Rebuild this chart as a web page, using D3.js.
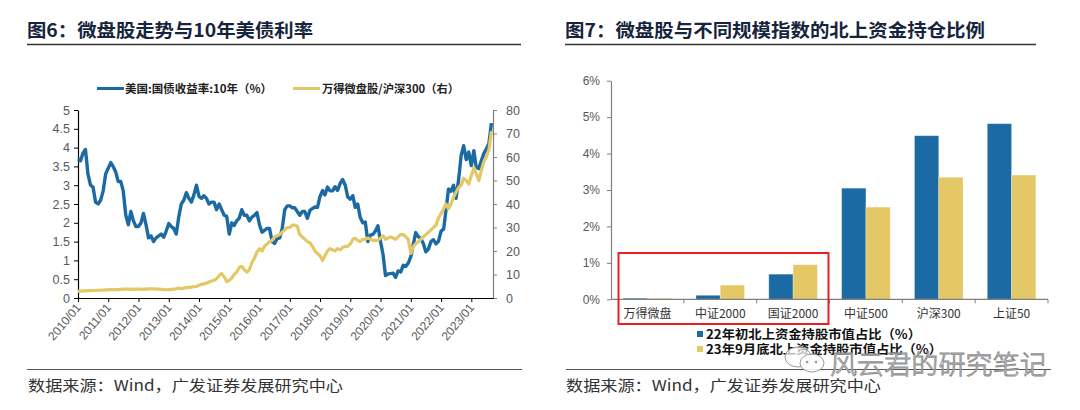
<!DOCTYPE html>
<html><head><meta charset="utf-8">
<script src="https://cdn.jsdelivr.net/npm/d3@7"></script>
<style>body{margin:0;background:#fff} svg{display:block}</style>
</head><body><svg id="c" width="1080" height="410"></svg>
<script>
// ---------- data ----------
const startYear = 2010;
// US 10Y treasury yield, monthly from 2010/01 (%)
const usYield = [
 3.70,3.65,3.85,3.95,3.30,3.00,2.95,2.55,2.50,2.60,2.85,3.30,
 3.45,3.60,3.50,3.35,3.10,3.10,2.85,2.20,1.95,2.30,2.05,1.90,
 1.90,2.00,2.25,1.95,1.60,1.65,1.50,1.60,1.65,1.70,1.62,1.78,
 1.98,1.90,1.85,1.70,2.15,2.50,2.60,2.80,2.65,2.55,2.75,3.00,
 2.70,2.65,2.72,2.65,2.50,2.55,2.55,2.35,2.50,2.35,2.20,2.17,
 1.70,2.00,1.93,2.05,2.12,2.35,2.20,2.20,2.05,2.15,2.20,2.27,
 1.95,1.75,1.80,1.85,1.85,1.50,1.45,1.58,1.60,1.84,2.35,2.45,
 2.45,2.40,2.40,2.30,2.20,2.30,2.30,2.12,2.33,2.38,2.42,2.41,
 2.70,2.86,2.74,2.95,2.85,2.85,2.96,2.86,3.05,3.15,3.00,2.69,
 2.63,2.72,2.41,2.50,2.14,2.00,2.02,1.50,1.67,1.69,1.78,1.92,
 1.51,1.15,0.60,0.64,0.65,0.66,0.55,0.72,0.69,0.87,0.84,0.93,
 1.10,1.44,1.74,1.63,1.58,1.45,1.23,1.30,1.50,1.55,1.44,1.51,
 1.78,1.83,2.33,2.90,2.84,3.00,2.65,3.15,3.80,4.05,3.68,3.88,
 3.52,3.92,3.48,3.44,3.64,3.84,3.96,4.10,4.65
];
// Wind micro-cap / CSI300, monthly from 2010/01 (right axis)
const microRatio = [
 2.8,2.9,3.0,3.0,3.1,3.1,3.2,3.2,3.3,3.3,3.4,3.5,
 3.5,3.6,3.5,3.6,3.6,3.7,3.8,3.8,3.8,3.7,3.8,3.8,
 3.8,3.8,3.7,3.8,3.9,3.9,3.9,3.8,3.8,3.7,3.6,3.5,
 3.6,3.7,3.8,3.9,4.2,4.0,4.2,4.4,4.5,4.6,4.8,4.9,
 5.4,5.8,6.0,6.3,6.8,7.2,7.5,8.2,9.5,10.5,9.0,7.0,
 7.5,8.5,10.0,11.0,13.0,13.5,12.0,11.0,12.0,15.0,17.0,19.5,
 21.0,20.0,22.0,23.0,24.0,24.5,26.0,26.5,27.0,28.0,29.0,30.0,
 30.0,31.0,31.0,30.5,27.0,26.0,25.0,24.0,23.5,22.0,20.0,19.0,
 18.0,16.0,18.0,20.0,21.0,20.5,20.0,21.0,20.5,21.5,22.0,22.0,
 23.0,25.0,25.5,24.5,24.0,25.0,25.0,25.5,25.0,24.5,24.5,24.5,
 25.5,26.5,25.0,25.5,26.0,25.5,25.0,26.0,27.0,27.0,26.0,25.0,
 19.0,22.0,23.0,24.0,25.0,26.0,27.0,28.0,29.0,30.0,31.0,34.0,
 36.0,38.0,40.0,38.0,40.0,43.0,45.0,47.0,48.0,51.0,50.0,48.5,
 52.0,55.6,53.0,50.0,54.0,58.0,60.0,63.0,71.0
];
const yearTicks = ["2010/01","2011/01","2012/01","2013/01","2014/01","2015/01","2016/01",
                   "2017/01","2018/01","2019/01","2020/01","2021/01","2022/01","2023/01"];
const leftTicks = [0,0.5,1,1.5,2,2.5,3,3.5,4,4.5,5];
const rightTicks = [0,10,20,30,40,50,60,70,80];
const lineNames = ["美国:国债收益率:10年（%）","万得微盘股/沪深300（右）"];

const categories = ["万得微盘","中证2000","国证2000","中证500","沪深300","上证50"];
const share22 = [0.03,0.11,0.69,3.05,4.49,4.82];
const share23 = [0.03,0.39,0.95,2.53,3.35,3.41];
const pctTicks = [0,1,2,3,4,5,6];
const barNames = ["22年初北上资金持股市值占比（%）","23年9月底北上资金持股市值占比（%）"];

const titles = ["图6：微盘股走势与10年美债利率","图7：微盘股与不同规模指数的北上资金持仓比例"];
const source = "数据来源：Wind，广发证券发展研究中心";

// ---------- style ----------
const BLUE = "#1c6aa4", YELLOW = "#e4c865";
const CJK = "'Noto Sans CJK SC','Noto Sans',sans-serif";
const LAT = "'Liberation Sans',Arial,sans-serif";
const svg = d3.select("#c");

function text(x, y, s, o) {
  const t = svg.append("text").attr("x", x).attr("y", y).text(s)
    .attr("font-family", o.family || CJK).attr("font-size", o.size)
    .attr("font-weight", o.weight || 400).attr("fill", o.fill || "#333")
    .attr("text-anchor", o.anchor || "start");
  if (o.len) t.attr("textLength", o.len).attr("lengthAdjust", "spacingAndGlyphs");
  return t;
}

// titles, rules, footers
text(27, 37, titles[0], {size: 18.5, weight: 700, fill: "#17243d", len: 286});
text(565, 37, titles[1], {size: 18.5, weight: 700, fill: "#17243d", len: 420});
svg.append("line").attr("x1",27).attr("x2",521).attr("y1",44.5).attr("y2",44.5).attr("stroke","#333").attr("stroke-width",1.4);
svg.append("line").attr("x1",565).attr("x2",1036).attr("y1",44.5).attr("y2",44.5).attr("stroke","#333").attr("stroke-width",1.4);
svg.append("line").attr("x1",27).attr("x2",522).attr("y1",369.5).attr("y2",369.5).attr("stroke","#555").attr("stroke-width",1.2);
svg.append("line").attr("x1",566).attr("x2",1051).attr("y1",369.5).attr("y2",369.5).attr("stroke","#555").attr("stroke-width",1.2);
text(28, 391, source, {size: 15, fill: "#333", len: 315});
text(566, 391, source, {size: 15, fill: "#333", len: 315});

// ---------- left chart ----------
const dates = usYield.map((d, i) => new Date(startYear, i, 1));
const x = d3.scaleTime().domain([new Date(2010,0,1), new Date(2023,8,20)]).range([78, 493]);
const yL = d3.scaleLinear().domain([0,5]).range([298,110]);
const yR = d3.scaleLinear().domain([0,80]).range([298,110]);

const gL = svg.append("g").attr("transform","translate(78,0)")
  .call(d3.axisLeft(yL).tickValues(leftTicks).tickSize(4).tickSizeOuter(0).tickPadding(4).tickFormat(d => d));
gL.select(".domain").attr("stroke","#000").attr("stroke-width",1.2);
gL.selectAll(".tick line").attr("stroke","#000");
gL.selectAll("text").attr("font-family",LAT).attr("font-size",12.5).attr("fill","#595959");

const gR = svg.append("g").attr("transform","translate(493,0)")
  .call(d3.axisRight(yR).tickValues(rightTicks).tickSize(4).tickSizeOuter(0).tickPadding(9).tickFormat(d => d));
gR.select(".domain").attr("stroke","#7f7f7f").attr("stroke-width",1.2);
gR.selectAll(".tick line").attr("stroke","#7f7f7f");
gR.selectAll("text").attr("font-family",LAT).attr("font-size",12.5).attr("fill","#595959");

const yearDates = yearTicks.map(s => new Date(+s.slice(0,4), 0, 1));
const gX = svg.append("g").attr("transform","translate(0,298)")
  .call(d3.axisBottom(x).tickValues(yearDates).tickSize(4).tickSizeOuter(0).tickFormat((d,i) => yearTicks[i]));
gX.select(".domain").attr("stroke","#000").attr("stroke-width",1.2);
gX.selectAll(".tick line").attr("stroke","#000");
gX.selectAll("text").attr("font-family",LAT).attr("font-size",12).attr("fill","#595959")
  .attr("x",0).attr("y",0).attr("dy",null).attr("text-anchor","end")
  .attr("transform","translate(3,10) rotate(-50)");

const lineB = d3.line().x((d,i) => x(dates[i])).y(d => yL(d));
const lineY = d3.line().x((d,i) => x(dates[i])).y(d => yR(d));
svg.append("path").datum(usYield).attr("d", lineB).attr("fill","none")
  .attr("stroke",BLUE).attr("stroke-width",3.4).attr("stroke-linejoin","round");
svg.append("path").datum(microRatio).attr("d", lineY).attr("fill","none")
  .attr("stroke",YELLOW).attr("stroke-width",3.2).attr("stroke-linejoin","round");

// legend left
svg.append("line").attr("x1",97).attr("x2",124).attr("y1",88.5).attr("y2",88.5).attr("stroke",BLUE).attr("stroke-width",3);
text(125, 92.5, lineNames[0], {size: 11.5, weight: 700, fill: "#222", len: 147});
svg.append("line").attr("x1",293).attr("x2",320).attr("y1",88.5).attr("y2",88.5).attr("stroke",YELLOW).attr("stroke-width",3);
text(322, 92.5, lineNames[1], {size: 11.5, weight: 700, fill: "#222", len: 137});

// ---------- right chart ----------
const xb = d3.scaleBand().domain(categories).range([611, 1048]).paddingInner(0.333).paddingOuter(0.1667);
const xs = d3.scaleBand().domain([0,1]).range([0, xb.bandwidth()]);
const yb = d3.scaleLinear().domain([0,6]).range([299.3, 80.7]);

const gY2 = svg.append("g").attr("transform","translate(611,0)")
  .call(d3.axisLeft(yb).tickValues(pctTicks).tickSize(4).tickSizeOuter(0).tickPadding(7).tickFormat(d => d + "%"));
gY2.select(".domain").attr("stroke","#7f7f7f").attr("stroke-width",1.2);
gY2.selectAll(".tick line").attr("stroke","#7f7f7f");
gY2.selectAll("text").attr("font-family",LAT).attr("font-size",12).attr("fill","#595959");

const series = [share22, share23];
const colors = [BLUE, YELLOW];
series.forEach((vals, k) => {
  svg.append("g").selectAll("rect").data(vals).join("rect")
    .attr("x", (d,i) => xb(categories[i]) + xs(k))
    .attr("width", xs.bandwidth())
    .attr("y", d => yb(d))
    .attr("height", d => yb(0) - yb(d))
    .attr("fill", colors[k])
    .attr("stroke", "rgba(255,255,255,0.35)").attr("stroke-width", 0.8);
});

// x axis of bar chart
const step = xb.step();
svg.append("line").attr("x1",611).attr("x2",1048).attr("y1",299.3).attr("y2",299.3).attr("stroke","#7f7f7f").attr("stroke-width",1.2);
svg.append("g").selectAll("line").data(categories).join("line")
  .attr("x1", (d,i) => 611 + step*(i+1)).attr("x2", (d,i) => 611 + step*(i+1))
  .attr("y1", 299.3).attr("y2", 303.3).attr("stroke","#7f7f7f");
categories.forEach(c => {
  text(xb(c) + xb.bandwidth()/2, 318, c, {size: 12, fill: "#333", anchor: "middle"});
});

// red highlight box
svg.append("rect").attr("x",618.5).attr("y",253).attr("width",210).attr("height",71)
  .attr("fill","none").attr("stroke","#ee1c1c").attr("stroke-width",2);

// bar legend
svg.append("rect").attr("x",697).attr("y",331).attr("width",6).attr("height",6).attr("fill",BLUE);
text(706, 339, barNames[0], {size: 12.5, weight: 700, fill: "#111", len: 215});
svg.append("rect").attr("x",697).attr("y",346).attr("width",6).attr("height",6).attr("fill",YELLOW);
text(706, 354, barNames[1], {size: 12.5, weight: 700, fill: "#111", len: 236});

// watermark
svg.append("ellipse").attr("cx",798).attr("cy",357).attr("rx",13).attr("ry",10)
  .attr("fill","rgba(255,255,255,0.7)").attr("stroke","#999").attr("stroke-width",1);
svg.append("ellipse").attr("cx",812).attr("cy",363).attr("rx",12).attr("ry",9)
  .attr("fill","rgba(255,255,255,0.85)").attr("stroke","#999").attr("stroke-width",1);
svg.append("circle").attr("cx",807).attr("cy",362).attr("r",1.3).attr("fill","#999");
svg.append("circle").attr("cx",816).attr("cy",362).attr("r",1.3).attr("fill","#999");
text(830, 374, "风云君的研究笔记", {size: 26, weight: 300, fill: "rgba(255,255,255,0.7)", len: 217})
  .attr("stroke","#8c8c8c").attr("stroke-width",0.9);
</script></body></html>
